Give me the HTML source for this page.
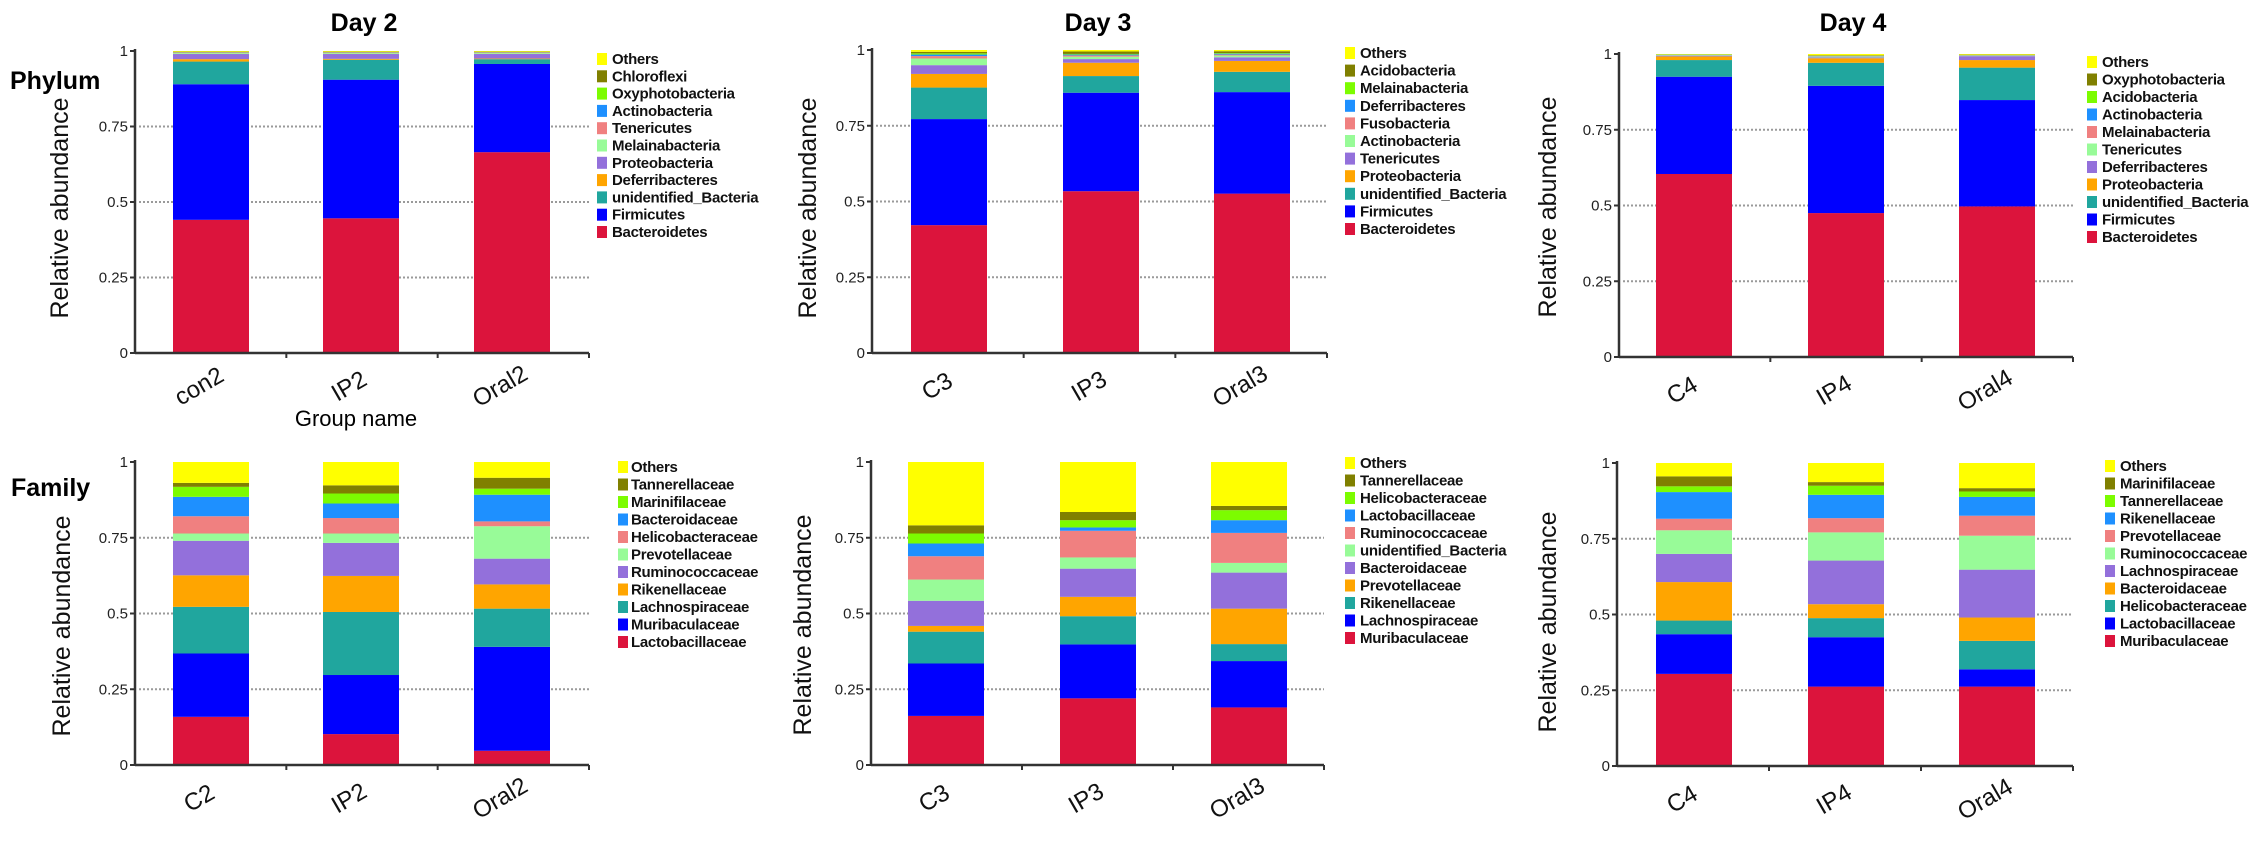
<!DOCTYPE html>
<html><head><meta charset="utf-8"><style>
html,body{margin:0;padding:0;background:#fff;}
svg{display:block;font-family:"Liberation Sans",sans-serif;}
</style></head><body>
<svg id="fig" width="2268" height="849" viewBox="0 0 2268 849" xmlns="http://www.w3.org/2000/svg">
<text x="364" y="31" font-size="25" font-weight="bold" text-anchor="middle">Day 2</text>
<text x="1098" y="31" font-size="25" font-weight="bold" text-anchor="middle">Day 3</text>
<text x="1853" y="31" font-size="25" font-weight="bold" text-anchor="middle">Day 4</text>
<text x="10" y="89" font-size="25" font-weight="bold">Phylum</text>
<text x="11" y="496" font-size="25" font-weight="bold">Family</text>
<text x="356" y="426" font-size="22" text-anchor="middle">Group name</text>
</svg>
<script>
const colors = ["#dc143c","#0000ff","#20a69e","#ffa500","#9370db","#98fb98","#f08080","#1e90ff","#7cfc00","#808000","#ffff00"];
const yTicks = [0,0.25,0.5,0.75,1];
const yTickLabels = ["0","0.25","0.5","0.75","1"];

// Panel 1: Day 2 Phylum
const p1Groups = ["con2","IP2","Oral2"];
const p1Series = ["Bacteroidetes","Firmicutes","unidentified_Bacteria","Deferribacteres","Proteobacteria","Melainabacteria","Tenericutes","Actinobacteria","Oxyphotobacteria","Chloroflexi","Others"];
const p1Con2 = [0.441,0.449,0.075,0.008,0.017,0.003,0.002,0.001,0.001,0.001,0.002];
const p1IP2 = [0.446,0.459,0.066,0.003,0.016,0.003,0.002,0.001,0.001,0.001,0.002];
const p1Oral2 = [0.665,0.292,0.016,0.002,0.015,0.003,0.002,0.001,0.001,0.001,0.002];

// Panel 2: Day 3 Phylum
const p2Groups = ["C3","IP3","Oral3"];
const p2Series = ["Bacteroidetes","Firmicutes","unidentified_Bacteria","Proteobacteria","Tenericutes","Actinobacteria","Fusobacteria","Deferribacteres","Melainabacteria","Acidobacteria","Others"];
const p2C3 = [0.422,0.350,0.104,0.045,0.029,0.022,0.008,0.005,0.004,0.005,0.006];
const p2IP3 = [0.534,0.325,0.055,0.044,0.012,0.008,0.004,0.003,0.002,0.008,0.005];
const p2Oral3 = [0.526,0.335,0.067,0.036,0.012,0.006,0.003,0.003,0.002,0.006,0.004];

// Panel 3: Day 4 Phylum
const p3Groups = ["C4","IP4","Oral4"];
const p3Series = ["Bacteroidetes","Firmicutes","unidentified_Bacteria","Proteobacteria","Deferribacteres","Tenericutes","Melainabacteria","Actinobacteria","Acidobacteria","Oxyphotobacteria","Others"];
const p3C4 = [0.604,0.321,0.055,0.012,0.002,0.001,0.001,0.001,0.001,0.001,0.001];
const p3IP4 = [0.475,0.420,0.076,0.015,0.003,0.002,0.001,0.001,0.001,0.002,0.004];
const p3Oral4 = [0.497,0.351,0.107,0.025,0.013,0.001,0.001,0.001,0.001,0.001,0.002];

// Panel 4: Day 2 Family
const p4Groups = ["C2","IP2","Oral2"];
const p4Series = ["Lactobacillaceae","Muribaculaceae","Lachnospiraceae","Rikenellaceae","Ruminococcaceae","Prevotellaceae","Helicobacteraceae","Bacteroidaceae","Marinifilaceae","Tannerellaceae","Others"];
const p4C2 = [0.159,0.209,0.154,0.104,0.114,0.024,0.057,0.064,0.033,0.013,0.069];
const p4IP2 = [0.102,0.195,0.208,0.119,0.109,0.031,0.051,0.048,0.033,0.027,0.077];
const p4Oral2 = [0.047,0.343,0.126,0.080,0.085,0.107,0.016,0.088,0.020,0.036,0.052];

// Panel 5: Day 3 Family
const p5Groups = ["C3","IP3","Oral3"];
const p5Series = ["Muribaculaceae","Lachnospiraceae","Rikenellaceae","Prevotellaceae","Bacteroidaceae","unidentified_Bacteria","Ruminococcaceae","Lactobacillaceae","Helicobacteraceae","Tannerellaceae","Others"];
const p5C3 = [0.162,0.173,0.105,0.019,0.083,0.070,0.077,0.042,0.033,0.027,0.209];
const p5IP3 = [0.220,0.178,0.093,0.064,0.093,0.037,0.088,0.011,0.024,0.027,0.165];
const p5Oral3 = [0.190,0.153,0.056,0.117,0.119,0.032,0.099,0.042,0.033,0.014,0.145];

// Panel 6: Day 4 Family
const p6Groups = ["C4","IP4","Oral4"];
const p6Series = ["Muribaculaceae","Lactobacillaceae","Helicobacteraceae","Bacteroidaceae","Lachnospiraceae","Ruminococcaceae","Prevotellaceae","Rikenellaceae","Tannerellaceae","Marinifilaceae","Others"];
const p6C4 = [0.304,0.131,0.045,0.127,0.093,0.078,0.038,0.088,0.019,0.033,0.044];
const p6IP4 = [0.262,0.163,0.063,0.046,0.144,0.093,0.047,0.077,0.030,0.012,0.063];
const p6Oral4 = [0.262,0.057,0.094,0.077,0.158,0.112,0.066,0.062,0.018,0.011,0.083];

const NS = "http://www.w3.org/2000/svg";
const svg = document.getElementById("fig");
function mk(tag, attrs, parent){
  const e = document.createElementNS(NS, tag);
  for (const k in attrs) e.setAttribute(k, attrs[k]);
  (parent || svg).appendChild(e);
  return e;
}

const panels = [
  {id:"day2-phylum", groups:p1Groups, series:p1Series, vals:[p1Con2,p1IP2,p1Oral2], ax:135, y1:51, y0:353, bars:[173,323,474], end:589, sq:597, tx:612, lt:59, lb:232, ytx:68, yty:208},
  {id:"day3-phylum", groups:p2Groups, series:p2Series, vals:[p2C3,p2IP3,p2Oral3], ax:872, y1:50, y0:353, bars:[911,1063,1214], end:1327, sq:1345, tx:1360, lt:53, lb:229, ytx:816, yty:208},
  {id:"day4-phylum", groups:p3Groups, series:p3Series, vals:[p3C4,p3IP4,p3Oral4], ax:1619, y1:54, y0:357, bars:[1656,1808,1959], end:2073, sq:2087, tx:2102, lt:62, lb:237, ytx:1556, yty:207},
  {id:"day2-family", groups:p4Groups, series:p4Series, vals:[p4C2,p4IP2,p4Oral2], ax:135, y1:462, y0:765, bars:[173,323,474], end:589, sq:618, tx:631, lt:467, lb:642, ytx:70, yty:626},
  {id:"day3-family", groups:p5Groups, series:p5Series, vals:[p5C3,p5IP3,p5Oral3], ax:871, y1:462, y0:765, bars:[908,1060,1211], end:1324, sq:1345, tx:1360, lt:463, lb:638, ytx:811, yty:625},
  {id:"day4-family", groups:p6Groups, series:p6Series, vals:[p6C4,p6IP4,p6Oral4], ax:1617, y1:463, y0:766, bars:[1656,1808,1959], end:2073, sq:2105, tx:2120, lt:466, lb:641, ytx:1556, yty:622}
];
const barW = 76;

panels.forEach(p => {
  const g = mk("g", {});
  
  
  const yS = v => p.y0 - v * (p.y0 - p.y1);
  yTicks.forEach((t, i) => {
    if (t > 0 && t < 1) {
      const gl = mk("line", {x1:p.ax+4, x2:p.end, y1:yS(t), y2:yS(t), stroke:"#9a9a9a", "stroke-width":2, "stroke-dasharray":"2,2"}, g);
      
      
    }
    const tk = mk("line", {x1:p.ax-5, x2:p.ax, y1:yS(t), y2:yS(t), stroke:"#333", "stroke-width":2}, g);
    
    
    const tl = mk("text", {x:p.ax-7, y:yS(t)+5, "font-size":15, "text-anchor":"end", fill:"#222"}, g);
    
    
    tl.textContent = yTickLabels[i];
  });
  p.vals.forEach((arr, gi) => {
    let acc = 0;
    const bx = p.bars[gi];
    arr.forEach((v, si) => {
      const top = yS(acc + v), bot = yS(acc);
      const r = mk("rect", {x:bx, y:top, width:barW, height:Math.max(0, bot-top), fill:colors[si]}, g);
      
      
      acc += v;
    });
    const cx = bx + barW/2 - 8, cy = p.y0 + 40;
    const xl = mk("text", {x:cx, y:cy, "font-size":24, "text-anchor":"middle", transform:"rotate(-30 " + cx + " " + cy + ")", fill:"#111"}, g);
    
    
    xl.textContent = p.groups[gi];
  });
  const ya = mk("line", {x1:p.ax, x2:p.ax, y1:p.y1-2, y2:p.y0+1, stroke:"#333", "stroke-width":2.5}, g);
  
  
  const xa = mk("line", {x1:p.ax, x2:p.end, y1:p.y0, y2:p.y0, stroke:"#333", "stroke-width":2.5}, g);
  
  
  const step = (p.end - p.ax) / 3;
  for (let k = 1; k <= 3; k++) {
    const xt = mk("line", {x1:p.ax+step*k, x2:p.ax+step*k, y1:p.y0, y2:p.y0+5, stroke:"#333", "stroke-width":2}, g);
    
    
  }
  const yt = mk("text", {x:p.ytx, y:p.yty, "font-size":25, "text-anchor":"middle", transform:"rotate(-90 " + p.ytx + " " + p.yty + ")", fill:"#111"}, g);
  
  
  yt.textContent = "Relative abundance";
  const n = p.series.length;
  const rowStep = (p.lb - p.lt) / (n - 1);
  for (let i = 0; i < n; i++) {
    const si = n - 1 - i;
    const ry = p.lt + i * rowStep;
    const sq = mk("rect", {x:p.sq, y:ry-6, width:10, height:12, fill:colors[si]}, g);
    
    
    const lt = mk("text", {x:p.tx, y:ry+5, "font-size":15, "font-weight":"bold", "letter-spacing":"-0.3", fill:"#111"}, g);
    
    
    lt.textContent = p.series[si];
  }
});
</script>
</body></html>
